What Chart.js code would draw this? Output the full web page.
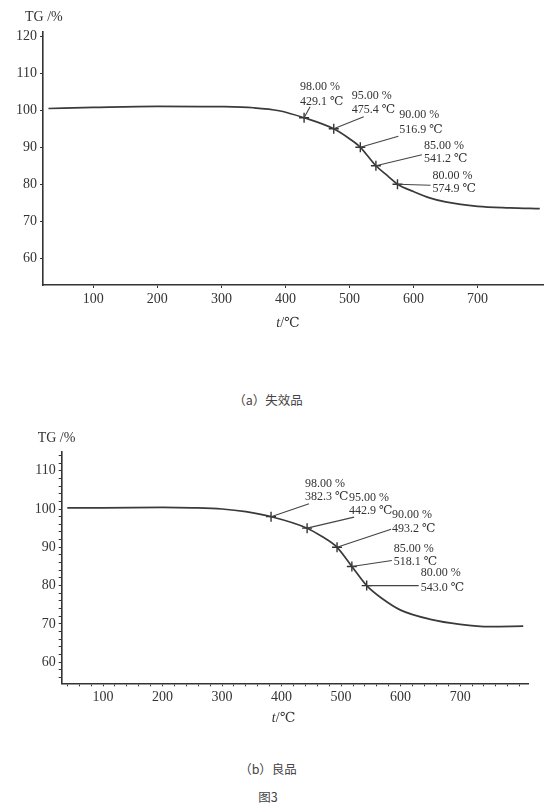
<!DOCTYPE html>
<html lang="zh">
<head>
<meta charset="utf-8">
<title>图3 TG曲线</title>
<script src="https://cdn.jsdelivr.net/npm/chart.js@4.4.1/dist/chart.umd.min.js"></script>
<style>
    html, body { margin: 0; padding: 0; background: #fff; }
    body { width: 550px; height: 807px; position: relative; overflow: hidden; }
    canvas { position: absolute; left: 0; }
    #chartA { top: 0; }
    #chartB { top: 415px; }
    .caption {
        position: absolute; left: 0; width: 536px; text-align: center;
        font-family: "Noto Sans CJK SC", sans-serif; font-size: 12.5px; color: #444;
        line-height: 18px;
    }
</style>
</head>
<body>
<canvas id="chartA" width="550" height="340"></canvas>
<canvas id="chartB" width="550" height="320"></canvas>
<div class="caption" style="top:391px">（a）失效品</div>
<div class="caption" style="top:760px">（b）良品</div>
<div class="caption" style="top:788px">图3</div>

<script>
// shared: mass-loss levels marked on both curves
const markLevels = [98, 95, 90, 85, 80];
const xTickLabels = [100, 200, 300, 400, 500, 600, 700];

// (a) 失效品
const tempA = [30, 100, 200, 300, 350, 390, 429.1, 475.4, 500, 516.9, 541.2, 560, 574.9, 600, 625, 650, 700, 750, 797];
const tgA   = [100.5, 100.8, 101.1, 101.0, 100.7, 99.9, 98.0, 95.0, 92.3, 90.0, 85.0, 82.2, 80.0, 78.0, 76.3, 75.2, 74.0, 73.6, 73.4];
const markTempA = [429.1, 475.4, 516.9, 541.2, 574.9];
const yTickLabelsA = [60, 70, 80, 90, 100, 110, 120];

// (b) 良品
const tempB = [40, 100, 200, 250, 300, 340, 382.3, 442.9, 468, 493.2, 518.1, 543.0, 570, 600, 650, 700, 750, 806];
const tgB   = [100.3, 100.3, 100.4, 100.3, 100.0, 99.3, 98.0, 95.0, 92.8, 90.0, 85.0, 80.0, 76.5, 73.6, 71.2, 69.9, 69.3, 69.4];
const markTempB = [382.3, 442.9, 493.2, 518.1, 543.0];
const yTickLabelsB = [60, 70, 80, 90, 100, 110];

const serif = '"Liberation Serif", "DejaVu Serif", serif';
const ink = '#333';

// where each label sits relative to its marker (px)
const offsetsA = [
    { tx: -4, t1: -31, t2: -16, lx: 6, ly: -11 },
    { tx: 18, t1: -33, t2: -19, lx: 30, ly: -12 },
    { tx: 39, t1: -32, t2: -17, lx: 38, ly: -11 },
    { tx: 48, t1: -20, t2: -7, lx: 46, ly: -11 },
    { tx: 35, t1: -8, t2: 5, lx: 33, ly: 1 }
];
const offsetsB = [
    { tx: 34, t1: -33, t2: -20, lx: 38, ly: -13 },
    { tx: 42, t1: -30, t2: -17, lx: 47, ly: -11 },
    { tx: 55, t1: -32, t2: -18, lx: 54, ly: -18 },
    { tx: 42, t1: -18, t2: -5, lx: 40, ly: -6 },
    { tx: 54, t1: -13, t2: 2, lx: 52, ly: 0 }
];

// draws the leader lines, value labels and axis titles
const makeLabelPlugin = (cfg) => ({
    id: 'tgLabels',
    afterDatasetsDraw(chart) {
        const { ctx, chartArea, scales: { x, y } } = chart;
        ctx.save();
        ctx.strokeStyle = '#444';
        ctx.lineWidth = 1.1;
        ctx.fillStyle = ink;
        ctx.font = '12px ' + serif;
        ctx.textBaseline = 'middle';
        cfg.markTemps.forEach((t, i) => {
            const px = x.getPixelForValue(t);
            const py = y.getPixelForValue(markLevels[i]);
            const o = cfg.offsets[i];
            ctx.beginPath();
            ctx.moveTo(px, py);
            ctx.lineTo(px + o.lx, py + o.ly);
            ctx.stroke();
            ctx.fillText(markLevels[i].toFixed(2) + ' %', px + o.tx, py + o.t1);
            ctx.fillText(t.toFixed(1) + ' ℃', px + o.tx, py + o.t2);
        });

        // y title
        ctx.font = '14px ' + serif;
        ctx.fillText('TG /%', chartArea.left + cfg.yTitle.dx, chartArea.top + cfg.yTitle.dy);

        // x title: italic t
        const tx = (chartArea.left + chartArea.right) / 2 + cfg.xTitle.dx;
        const ty = chartArea.bottom + cfg.xTitle.dy;
        ctx.font = 'italic 14px ' + serif;
        ctx.fillText('t', tx, ty);
        const w = ctx.measureText('t').width;
        ctx.font = '14px ' + serif;
        ctx.fillText('/℃', tx + w, ty);
        ctx.restore();
    }
});

function makeChart(id, cfg) {
    const ctx = document.getElementById(id).getContext('2d');
    return new Chart(ctx, {
        type: 'line',
        data: {
            datasets: [{
                data: cfg.temps.map((t, i) => ({ x: t, y: cfg.tgs[i] })),
                borderColor: '#3a3a3a',
                borderWidth: 1.7,
                pointRadius: 0,
                cubicInterpolationMode: 'monotone',
                fill: false
            }, {
                data: cfg.markTemps.map((t, i) => ({ x: t, y: markLevels[i] })),
                showLine: false,
                pointStyle: 'cross',
                pointRadius: 5,
                borderColor: '#333',
                pointBorderWidth: 1.4
            }]
        },
        options: {
            responsive: false,
            animation: false,
            layout: { padding: cfg.padding },
            plugins: { legend: { display: false }, tooltip: { enabled: false } },
            scales: {
                x: {
                    type: 'linear',
                    min: cfg.xMin,
                    max: cfg.xMax,
                    afterBuildTicks: s => { s.ticks = cfg.xTicks.map(v => ({ value: v })); },
                    afterFit: s => { s.height = cfg.xHeight; },
                    ticks: {
                        autoSkip: false, maxRotation: 0, padding: 3, color: ink,
                        font: { family: serif, size: 14 },
                        callback: v => xTickLabels.includes(v) ? String(v) : ''
                    },
                    grid: { drawOnChartArea: false, drawTicks: true, tickLength: 3, color: ink },
                    border: { color: ink, width: 1.6 }
                },
                y: {
                    type: 'linear',
                    min: cfg.yMin,
                    max: cfg.yMax,
                    afterBuildTicks: s => { s.ticks = cfg.yTicks.map(v => ({ value: v })); },
                    afterFit: s => { s.width = cfg.yWidth; },
                    ticks: {
                        autoSkip: false, padding: 3, color: ink,
                        font: { family: serif, size: 14 },
                        callback: v => cfg.yTickLabels.includes(v) ? String(v) : ''
                    },
                    grid: { drawOnChartArea: false, drawTicks: true, tickLength: 3, color: ink },
                    border: { color: ink, width: 1.6 }
                }
            }
        },
        plugins: [makeLabelPlugin(cfg)]
    });
}

// bottom chart has minor tick dots every 20 ℃ and every 2 %
const minorX = [];
for (let v = 40; v <= 800; v += 20) minorX.push(v);
const minorY = [];
for (let v = 56; v <= 114; v += 2) minorY.push(v);

makeChart('chartA', {
    temps: tempA, tgs: tgA, markTemps: markTempA, offsets: offsetsA,
    xMin: 21.5, xMax: 803, yMin: 52.7, yMax: 121.3,
    xTicks: xTickLabels, yTicks: yTickLabelsA, yTickLabels: yTickLabelsA,
    padding: { top: 31.7, right: 6, bottom: 0, left: 0 },
    xHeight: 55, yWidth: 43,
    yTitle: { dx: -18, dy: -14 },
    xTitle: { dx: -17, dy: 38 }
});

makeChart('chartB', {
    temps: tempB, tgs: tgB, markTemps: markTempB, offsets: offsetsB,
    xMin: 30.6, xMax: 814, yMin: 54.5, yMax: 114.96,
    xTicks: minorX, yTicks: minorY, yTickLabels: yTickLabelsB,
    padding: { top: 36.7, right: 22, bottom: 0, left: 0 },
    xHeight: 51.7, yWidth: 61.7,
    yTitle: { dx: -24, dy: -13 },
    xTitle: { dx: -23, dy: 35 }
});
</script>
</body>
</html>
